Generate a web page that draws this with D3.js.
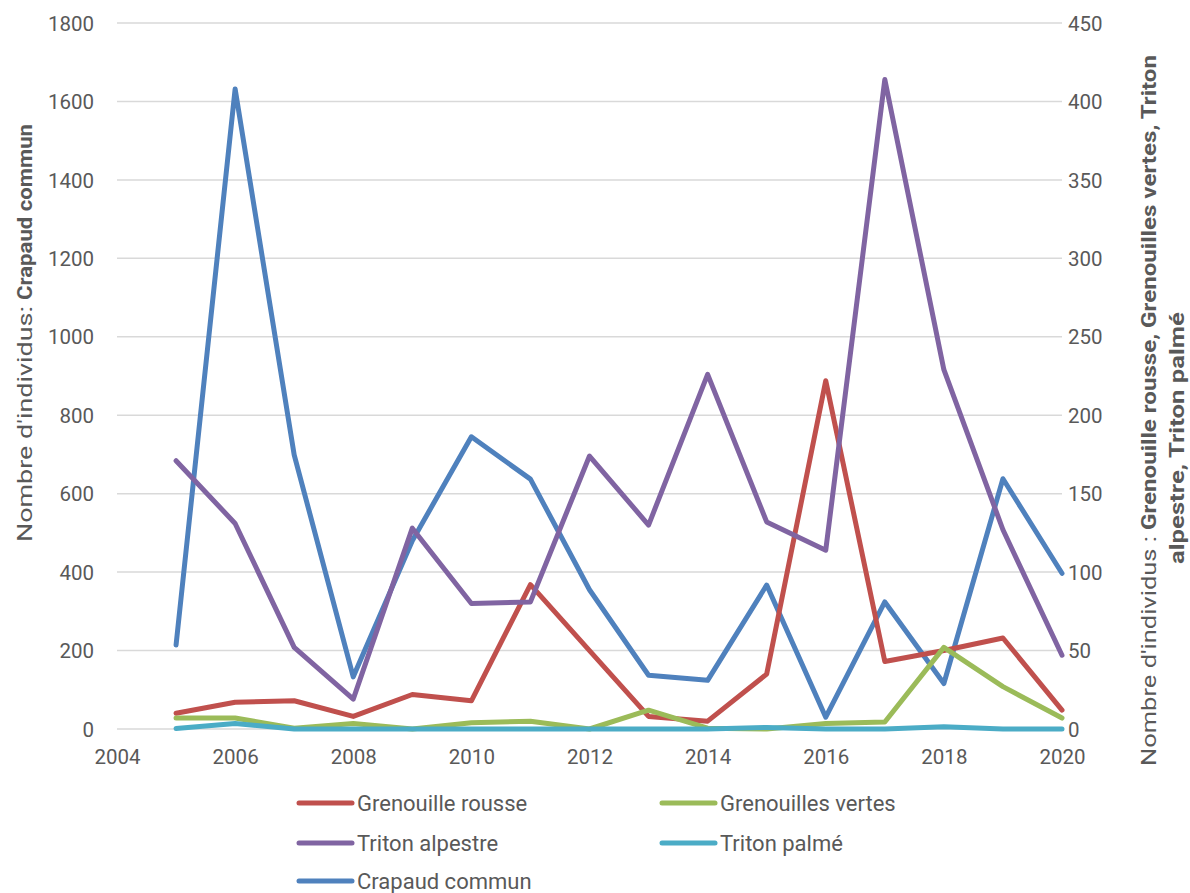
<!DOCTYPE html>
<html><head><meta charset="utf-8">
<script src="https://cdn.jsdelivr.net/npm/d3@7"></script>
<style>
html,body{margin:0;padding:0;background:#fff;}
text{font-family:Roboto,"Liberation Sans",sans-serif;fill:#595959;}
</style></head>
<body>
<svg id="chart" width="1190" height="893"></svg>
<script>
const years = [2005,2006,2007,2008,2009,2010,2011,2012,2013,2014,2015,2016,2017,2018,2019,2020];
const crapaudCommun   = [214,1632,699,133,480,745,637,355,137,124,367,30,324,116,638,397];
const grenouilleRousse = [10,17,18,8,22,18,92,50,8,5,35,222,43,50,58,12];
const grenouillesVertes = [7,7,0.5,3.5,0,4,5,0,12,0.5,0,3.5,4.5,52,27,7];
const tritonAlpestre  = [171,131,52,19,128,80,81,174,130,226,132,114,414,229,127,47];
const tritonPalme     = [0.3,3.5,0,0,0,0,0,0,0,0,1,0,0,1.5,0,0];
const xTicks = [2004,2006,2008,2010,2012,2014,2016,2018,2020];
const leftTicks = [0,200,400,600,800,1000,1200,1400,1600,1800];
const rightTicks = [0,50,100,150,200,250,300,350,400,450];

const seriesDefs = [
  {name:"Crapaud commun", values:crapaudCommun, axis:"left", color:"#4F81BD"},
  {name:"Grenouille rousse", values:grenouilleRousse, axis:"right", color:"#C0504D"},
  {name:"Grenouilles vertes", values:grenouillesVertes, axis:"right", color:"#9BBB59"},
  {name:"Triton alpestre", values:tritonAlpestre, axis:"right", color:"#8064A2"},
  {name:"Triton palmé", values:tritonPalme, axis:"right", color:"#4BACC6"}
];
const legendOrder = ["Grenouille rousse","Grenouilles vertes","Triton alpestre","Triton palmé","Crapaud commun"];

const svg = d3.select("#chart");
const L = 117, R = 1062, T = 23, B = 729;
const x = d3.scaleLinear().domain([2004,2020]).range([L,R]);
const yL = d3.scaleLinear().domain([0,1800]).range([B,T]);
const yR = d3.scaleLinear().domain([0,450]).range([B,T]);

// gridlines
svg.append("g").selectAll("line").data(leftTicks).join("line")
  .attr("x1",L).attr("x2",R).attr("y1",d=>yL(d)).attr("y2",d=>yL(d))
  .attr("stroke","#D9D9D9").attr("stroke-width",1.5);

// left axis
const gl = svg.append("g").attr("transform",`translate(${L},0)`)
  .call(d3.axisLeft(yL).tickValues(leftTicks).tickSize(0).tickPadding(23).tickFormat(d3.format("d")));
gl.select(".domain").remove();
gl.selectAll("text").style("font-size","20.5px").attr("fill","#595959").attr("dy","0.35em");

// right axis
const gr = svg.append("g").attr("transform",`translate(${R},0)`)
  .call(d3.axisRight(yR).tickValues(rightTicks).tickSize(0).tickPadding(6).tickFormat(d3.format("d")));
gr.select(".domain").remove();
gr.selectAll("text").style("font-size","20.5px").attr("fill","#595959").attr("dy","0.35em");

// x axis
const gx = svg.append("g").attr("transform",`translate(0,${B})`)
  .call(d3.axisBottom(x).tickValues(xTicks).tickSize(0).tickPadding(20).tickFormat(d3.format("d")));
gx.select(".domain").remove();
gx.selectAll("text").style("font-size","20.5px").attr("fill","#595959");

// lines
const mk = s => d3.line().x((d,i)=>x(years[i])).y(d=>(s.axis==="left"?yL:yR)(d));
svg.append("g").selectAll("path").data(seriesDefs).join("path")
  .attr("d",s=>mk(s)(s.values))
  .attr("fill","none").attr("stroke",s=>s.color).attr("stroke-width",5)
  .attr("stroke-linejoin","round").attr("stroke-linecap","round");

// axis titles (rotated, pieces placed along the axis)
function titlePiece(tx, start, len, txt, bold){
  svg.append("text").attr("transform",`translate(${tx},0) rotate(-90)`)
    .attr("x",-start).attr("y",0)
    .attr("textLength",len).attr("lengthAdjust","spacingAndGlyphs")
    .attr("font-weight",bold?"bold":"normal")
    .style("font-size","21px").text(txt);
}
titlePiece(32, 542, 236, "Nombre d'individus:", false);
titlePiece(32, 300, 176, "Crapaud commun", true);
titlePiece(1156, 766, 230, "Nombre d'individus :", false);
titlePiece(1156, 530, 475, "Grenouille rousse, Grenouilles vertes,  Triton", true);
titlePiece(1184, 564, 252, "alpestre, Triton palmé", true);

// legend
const colX = [297, 660], rowY = [803, 843, 881];
const byName = Object.fromEntries(seriesDefs.map(s=>[s.name,s]));
const lg = svg.append("g").selectAll("g").data(legendOrder).join("g")
  .attr("transform",(d,i)=>`translate(${colX[i%2]},${rowY[Math.floor(i/2)]})`);
lg.append("line").attr("x1",2).attr("x2",55).attr("stroke",d=>byName[d].color)
  .attr("stroke-width",5).attr("stroke-linecap","round");
lg.append("text").attr("x",60).attr("dy","0.35em").style("font-size","22px").text(d=>d);
</script>
</body></html>
